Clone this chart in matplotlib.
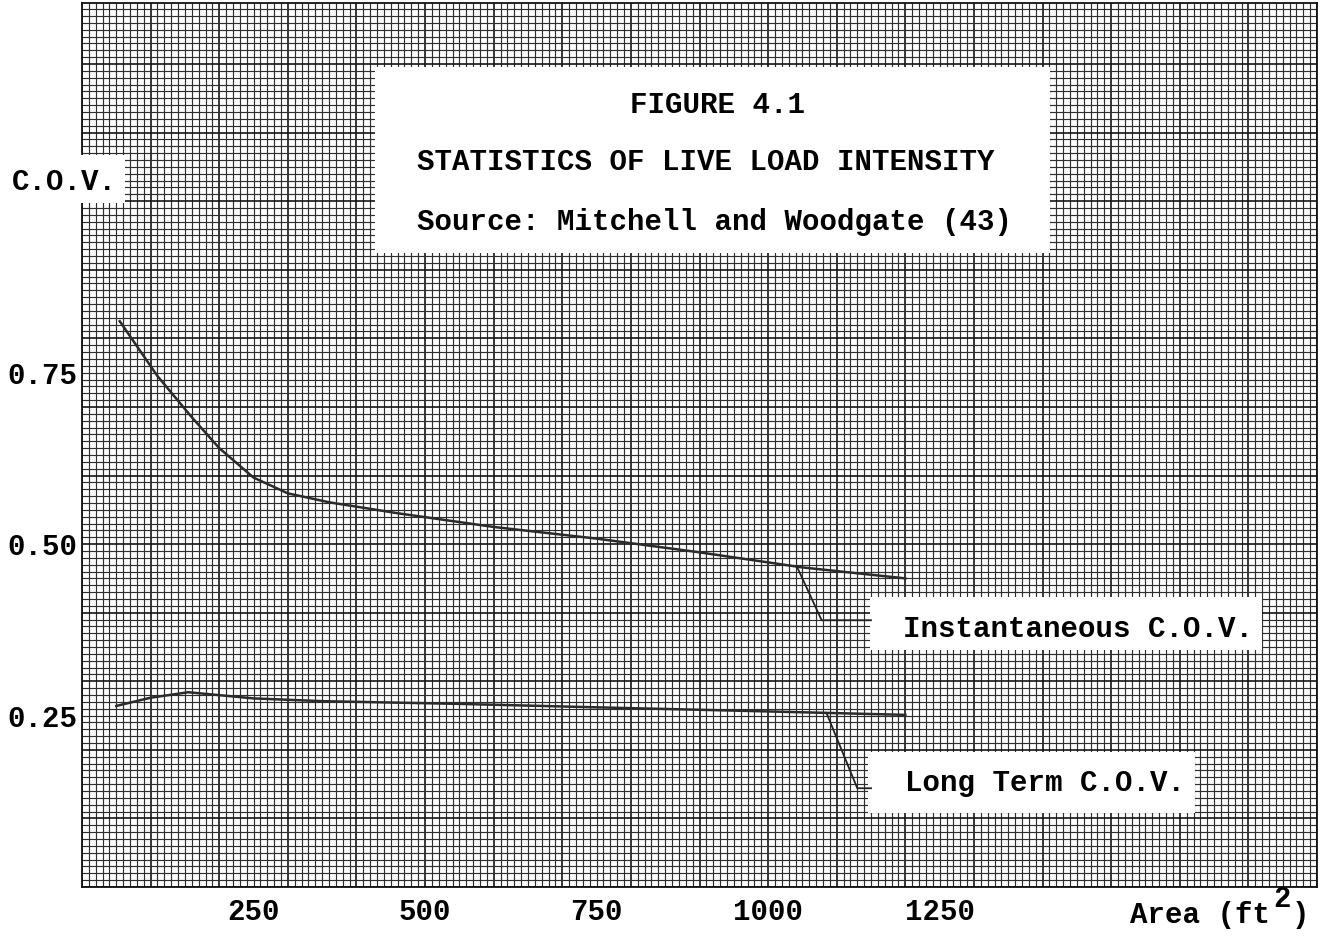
import numpy as np
import matplotlib.pyplot as plt
from matplotlib.patches import Rectangle

# live load intensity statistics (Mitchell and Woodgate), area in ft^2
inst_area = [55, 110, 160, 200, 250, 300, 360, 460, 600, 750, 900, 1050, 1200]
inst_cov = [0.825, 0.745, 0.685, 0.640, 0.597, 0.574, 0.561, 0.545, 0.525, 0.508, 0.488, 0.466, 0.450]
long_area = [50, 100, 155, 250, 350, 550, 750, 1000, 1200]
long_cov = [0.264, 0.276, 0.284, 0.275, 0.271, 0.267, 0.262, 0.256, 0.251]

x_ticks = [250, 500, 750, 1000, 1250]
x_labels = ["250", "500", "750", "1000", "1250"]
y_ticks = [0.25, 0.50, 0.75]
y_labels = ["0.25", "0.50", "0.75"]

plt.rcParams["font.family"] = ["Liberation Mono", "DejaVu Sans Mono"]
plt.rcParams["font.weight"] = "bold"
plt.rcParams["font.size"] = 21

W, H = 1334, 938
fig = plt.figure(figsize=(W / 100, H / 100), dpi=100)


def fx(px):
    return px / W


def fy(py):
    return 1 - py / H


ax = fig.add_axes([fx(82), fy(887), fx(1317) - fx(82), fy(3) - fy(887)])
xmax, ymax = 1800, 1.289
ax.set_xlim(0, xmax)
ax.set_ylim(0, ymax)

# graph paper: fine lines every 10 ft^2 / 0.01, heavier ones every 100 / 0.1
xs = np.arange(0, xmax + 1, 10)
heavy_x = xs % 100 == 0
ax.vlines(xs[~heavy_x], 0, ymax, color="#2e2e2e", lw=0.85, zorder=0)
ax.vlines(xs[heavy_x], 0, ymax, color="#141414", lw=1.2, zorder=0)
iy = np.arange(0, 129)
ys = iy * 0.01
heavy_y = iy % 10 == 0
ax.hlines(ys[~heavy_y], 0, xmax, color="#2e2e2e", lw=0.85, zorder=0)
ax.hlines(ys[heavy_y], 0, xmax, color="#141414", lw=1.2, zorder=0)

for s in ax.spines.values():
    s.set_linewidth(1.3)
    s.set_color("#111111")

# the two curves
ax.plot(inst_area, inst_cov, color="#2b2b2b", lw=1.8, zorder=4)
ax.plot(long_area, long_cov, color="#2b2b2b", lw=1.8, zorder=4)

# white label patches typed over the paper
ax.add_patch(Rectangle((427, 0.924), 984, 0.271, facecolor="white", edgecolor="none", zorder=3))
ax.add_patch(Rectangle((1149, 0.345), 571, 0.078, facecolor="white", edgecolor="none", zorder=3))
ax.add_patch(Rectangle((1146, 0.108), 476, 0.089, facecolor="white", edgecolor="none", zorder=3))

ax.text(799, 1.140, "FIGURE 4.1", ha="left", va="center", zorder=5)
ax.text(488, 1.057, "STATISTICS OF LIVE LOAD INTENSITY", ha="left", va="center", zorder=5)
ax.text(488, 0.969, "Source: Mitchell and Woodgate (43)", ha="left", va="center", zorder=5)

ax.text(1197, 0.376, "Instantaneous C.O.V.", ha="left", va="center", zorder=5)
ax.text(1200, 0.152, "Long Term C.O.V.", ha="left", va="center", zorder=5)

# leader lines from the curves to their labels
x0 = 1042
ax.plot([x0, 1078, 1150], [np.interp(x0, inst_area, inst_cov), 0.389, 0.389],
        color="#222222", lw=1.3, zorder=4)
x1 = 1085
ax.plot([x1, 1130, 1150], [np.interp(x1, long_area, long_cov), 0.144, 0.144],
        color="#222222", lw=1.3, zorder=4)

ax.set_xticks(x_ticks, labels=x_labels)
ax.set_yticks(y_ticks, labels=y_labels)
ax.tick_params(axis="both", length=0)
ax.tick_params(axis="x", pad=8)
ax.tick_params(axis="y", pad=3)

# y axis caption sits in its own white patch at the left edge
fig.patches.append(Rectangle((0, fy(203)), fx(125), fy(155) - fy(203),
                             transform=fig.transFigure, facecolor="white",
                             edgecolor="none", zorder=2))
fig.text(fx(12), fy(182), "C.O.V.", ha="left", va="center", zorder=3)

# x axis caption with a typed, raised exponent
fig.text(fx(1270), fy(915), "Area (ft", ha="right", va="center")
fig.text(fx(1273), fy(899), "2", ha="left", va="center")
fig.text(fx(1292), fy(915), ")", ha="left", va="center")

fig.savefig("out.png", dpi=100, facecolor="white")
